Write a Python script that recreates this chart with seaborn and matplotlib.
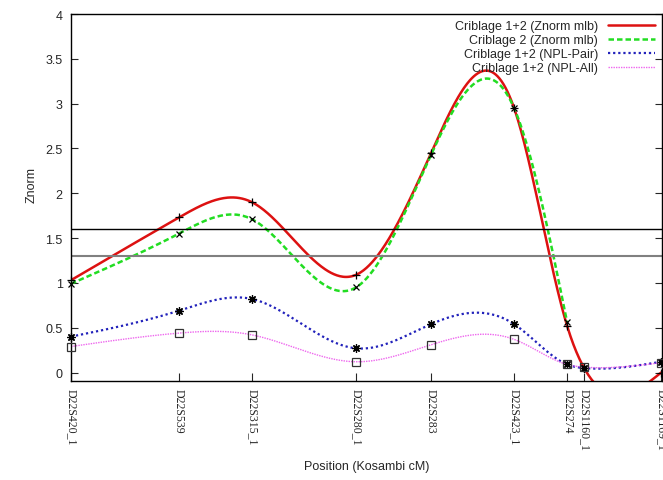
import numpy as np
import pandas as pd
import matplotlib
matplotlib.use('Agg')
import matplotlib.pyplot as plt
import seaborn as sns

# markers and their position (cM)
markers = ['D22S420_1', 'D22S539', 'D22S315_1', 'D22S280_1', 'D22S283',
           'D22S423_1', 'D22S274', 'D22S1160_1', 'D22S1169_1']
pos_cm = [0.0, 10.8, 18.1, 28.5, 36.0, 44.3, 49.6, 51.3, 59.0]

# scores per screening
znorm_12 = [1.03, 1.73, 1.90, 1.09, 2.45, 2.95, 0.52, 0.05, 0.00]
znorm_2 = [0.99, 1.55, 1.71, 0.95, 2.43, 2.95, 0.56]
npl_pair = [0.40, 0.69, 0.82, 0.27, 0.54, 0.54, 0.09, 0.05, 0.12]
npl_all = [0.29, 0.44, 0.42, 0.12, 0.31, 0.37, 0.09, 0.06, 0.11]

thresholds = [1.6, 1.3]


#natural cubic spline (like gnuplot "smooth csplines")
def csplines(x, y, n=600):
    x = np.asarray(x, float)
    y = np.asarray(y, float)
    k = len(x)
    h = np.diff(x)
    A = np.zeros((k, k))
    b = np.zeros(k)
    A[0, 0] = A[-1, -1] = 1
    for i in range(1, k - 1):
        A[i, i - 1] = h[i - 1]
        A[i, i] = 2 * (h[i - 1] + h[i])
        A[i, i + 1] = h[i]
        b[i] = 6 * ((y[i + 1] - y[i]) / h[i] - (y[i] - y[i - 1]) / h[i - 1])
    m = np.linalg.solve(A, b)
    xs = np.linspace(x[0], x[-1], n)
    idx = np.clip(np.searchsorted(x, xs) - 1, 0, k - 2)
    t0 = xs - x[idx]
    t1 = x[idx + 1] - xs
    hh = h[idx]
    ys = (m[idx] * t1**3 + m[idx + 1] * t0**3) / (6 * hh) \
        + (y[idx] / hh - m[idx] * hh / 6) * t1 \
        + (y[idx + 1] / hh - m[idx + 1] * hh / 6) * t0
    return xs, ys


sns.set_style('ticks')
plt.rcParams['font.family'] = ['Liberation Sans', 'DejaVu Sans']

fig = plt.figure(figsize=(6.63, 4.81), dpi=100)
ax = fig.add_axes([0.107, 0.2048, 0.891, 0.764])

series = [
    ('Criblage 1+2 (Znorm mlb)', znorm_12, '#dd1111', '-', 1.8, '+', 6, 'black'),
    ('Criblage 2 (Znorm mlb)', znorm_2, '#22dd22', (0, (2.2, 1.2)), 1.8, 'x', 5, 'black'),
    ('Criblage 1+2 (NPL-Pair)', npl_pair, '#2222bb', (0, (1, 1.3)), 1.6, (8, 2, 0), 6, 'black'),
    ('Criblage 1+2 (NPL-All)', npl_all, '#ee66ee', (0, (1, 0.8)), 1.0, 's', 6, '#333333'),
]

for label, vals, col, ls, lw, mk, ms, mc in series:
    xs, ys = csplines(pos_cm[:len(vals)], vals)
    sns.lineplot(x=xs, y=ys, ax=ax, color=col, linestyle=ls, linewidth=lw,
                 label=label, sort=False)

for label, vals, col, ls, lw, mk, ms, mc in series:
    ax.plot(pos_cm[:len(vals)], vals, linestyle='none', marker=mk, markersize=ms,
            markerfacecolor='none', markeredgecolor=mc, markeredgewidth=0.9,
            clip_on=False, zorder=5)

ax.axhline(thresholds[0], color='black', linewidth=1.0)
ax.axhline(thresholds[1], color='#808080', linewidth=1.5)

ax.set_xlim(0, 59.05)
ax.set_ylim(-0.1, 4.0)
ax.set_yticks(np.arange(0, 4.01, 0.5))
ax.set_yticklabels(['0', '0.5', '1', '1.5', '2', '2.5', '3', '3.5', '4'])
ax.set_xticks(pos_cm)
ax.set_xticklabels(markers, rotation=-90, family=['Liberation Serif'], fontsize=8.5,
                   ha='center', va='top')
ax.tick_params(axis='y', direction='in', length=5, left=True, right=True,
               labelsize=9, pad=6, width=0.8)
ax.tick_params(axis='x', direction='in', length=6, labelsize=8.5, pad=5, width=0.8)
for s in ax.spines.values():
    s.set_color('black')
    s.set_linewidth(1.0)

ax.set_xlabel('Position (Kosambi cM)', fontsize=9)
ax.set_ylabel('Znorm', fontsize=9)
ax.xaxis.set_label_coords(0.5, -0.213)
ax.yaxis.set_label_coords(-0.057, 0.537)

leg = ax.legend(loc='upper right', markerfirst=False, frameon=False, fontsize=9,
                handlelength=3.8, handletextpad=0.8, labelspacing=0.15,
                borderaxespad=0.3, borderpad=0.2)

fig.savefig('out.png', dpi=100)
